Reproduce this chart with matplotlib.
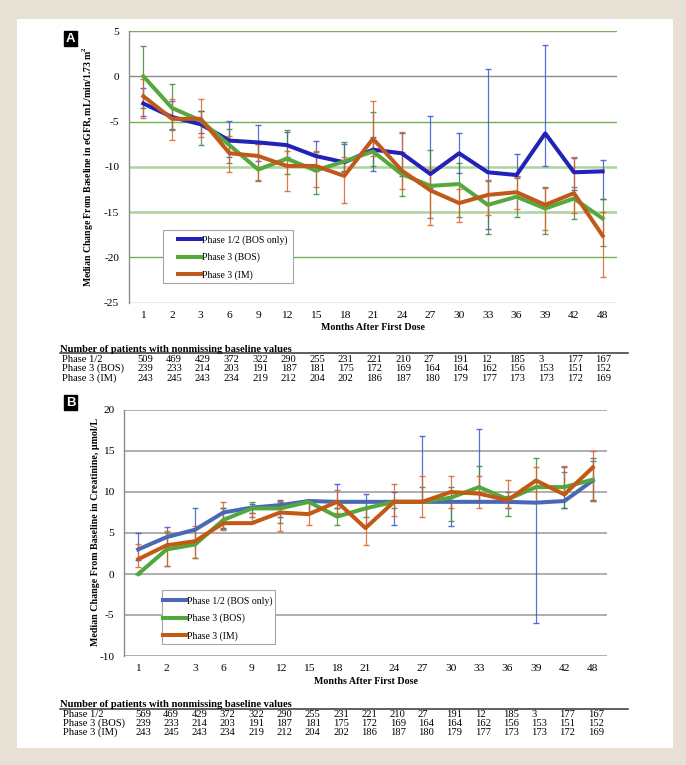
import matplotlib
matplotlib.use('Agg')
import matplotlib.pyplot as plt
import numpy as np
from matplotlib.patches import Rectangle
from matplotlib.lines import Line2D

# months after first dose (categorical axis)
months = ['1', '2', '3', '6', '9', '12', '15', '18', '21', '24', '27', '30', '33', '36', '39', '42', '48']
labels = ['Phase 1/2 (BOS only)', 'Phase 3 (BOS)', 'Phase 3 (IM)']

# Panel A: median change in eGFR, with lower / upper error bar ends
egfr_p12 = [-3.0, -4.5, -5.3, -7.1, -7.3, -7.6, -8.8, -9.5, -8.1, -8.5, -10.8, -8.5, -10.6, -10.9, -6.3, -10.6, -10.5]
egfr_p12_lo = [-4.4, -5.8, -6.3, -8.9, -9.3, -8.9, -10.5, -10.5, -10.5, -11.0, -12.3, -10.7, -16.9, -11.0, -9.9, -12.6, -13.6]
egfr_p12_hi = [-1.3, -2.7, -3.8, -4.9, -5.4, -6.2, -7.2, -7.5, -6.7, -6.3, -4.4, -6.3, 0.8, -8.6, 3.5, -9.0, -9.2]
egfr_bos = [0.0, -3.5, -4.9, -7.6, -10.3, -9.1, -10.4, -9.4, -8.3, -10.8, -12.1, -11.9, -14.2, -13.3, -14.6, -13.5, -15.7]
egfr_bos_lo = [-3.5, -5.9, -7.6, -9.6, -11.6, -10.8, -13.0, -10.6, -9.9, -13.2, -15.7, -15.5, -17.4, -15.5, -17.4, -15.8, -18.7]
egfr_bos_hi = [3.3, -0.9, -3.8, -5.8, -7.5, -5.9, -8.4, -7.3, -3.9, -8.4, -8.1, -9.6, -11.6, -11.2, -12.2, -12.2, -13.6]
egfr_im = [-2.2, -4.7, -4.7, -8.5, -8.8, -9.9, -9.9, -11.0, -6.9, -10.4, -12.6, -14.0, -13.1, -12.8, -14.2, -12.9, -17.6]
egfr_im_lo = [-4.6, -7.0, -6.7, -10.6, -11.5, -12.7, -12.2, -14.0, -8.8, -12.4, -16.4, -16.1, -15.3, -14.7, -17.0, -15.1, -22.2]
egfr_im_hi = [-0.3, -2.5, -2.5, -6.6, -7.5, -8.3, -8.3, -8.9, -2.7, -6.1, -10.2, -12.5, -11.5, -11.1, -12.3, -8.9, -15.0]

# Panel B: median change in creatinine
cr_p12 = [3.0, 4.5, 5.4, 7.5, 8.1, 8.4, 8.9, 8.8, 8.8, 8.8, 8.8, 8.8, 8.8, 8.8, 8.7, 8.9, 11.4]
cr_p12_lo = [1.7, 3.0, 3.8, 5.6, 7.5, 7.0, 7.5, 8.0, 6.0, 6.0, 8.8, 5.8, 8.8, 8.0, -6.0, 8.0, 9.0]
cr_p12_hi = [5.0, 5.7, 8.0, 8.0, 8.5, 9.0, 9.0, 11.0, 9.7, 10.0, 16.8, 9.5, 17.7, 9.5, 8.8, 13.1, 14.1]
cr_bos = [0.0, 3.0, 3.6, 6.6, 8.0, 8.0, 8.8, 7.0, 8.0, 8.8, 8.8, 9.3, 10.6, 9.1, 10.6, 10.6, 11.5]
cr_bos_lo = [0.0, 1.0, 2.0, 5.5, 7.0, 6.2, 7.5, 6.0, 7.0, 8.0, 8.8, 6.5, 8.8, 7.1, 8.8, 8.0, 8.9]
cr_bos_hi = [0.0, 5.0, 5.5, 8.0, 8.8, 8.8, 9.0, 8.0, 8.8, 9.0, 10.6, 10.6, 13.2, 10.0, 14.1, 12.4, 13.8]
cr_im = [1.8, 3.5, 4.0, 6.2, 6.2, 7.5, 7.3, 8.8, 5.6, 8.8, 8.8, 10.0, 9.8, 9.0, 11.4, 9.7, 13.0]
cr_im_lo = [0.9, 1.0, 2.0, 5.4, 6.2, 5.3, 6.0, 7.5, 3.5, 7.1, 7.0, 8.0, 8.0, 8.0, 8.8, 10.0, 8.9]
cr_im_hi = [3.6, 5.2, 5.8, 8.8, 7.5, 8.9, 8.8, 10.2, 8.0, 11.0, 12.0, 12.0, 12.0, 11.5, 13.0, 13.2, 15.0]

# patients with nonmissing baseline values
n_p12_a = [509, 469, 429, 372, 322, 290, 255, 231, 221, 210, 27, 191, 12, 185, 3, 177, 167]
n_p12_b = [569, 469, 429, 372, 322, 290, 255, 231, 221, 210, 27, 191, 12, 185, 3, 177, 167]
n_bos = [239, 233, 214, 203, 191, 187, 181, 175, 172, 169, 164, 164, 162, 156, 153, 151, 152]
n_im = [243, 245, 243, 234, 219, 212, 204, 202, 186, 187, 180, 179, 177, 173, 173, 172, 169]

W, H = 686, 765
plt.rcParams['font.family'] = ['Liberation Serif', 'DejaVu Serif']
plt.rcParams['axes.unicode_minus'] = False
plt.rcParams['mathtext.fontset'] = 'custom'
plt.rcParams['mathtext.rm'] = 'Liberation Serif'
plt.rcParams['mathtext.bf'] = 'Liberation Serif:bold'


def fx(px):
    return px / W


def fy(py):
    return 1 - py / H


def ax_rect(left, top, right, bottom):
    return [fx(left), fy(bottom), (right - left) / W, (bottom - top) / H]


def draw_panel(ax, series, yticks, grid, frame, handle_at):
    x = np.arange(len(months))
    for vals, lo, hi, col, ecol in series:
        vals, lo, hi = np.array(vals), np.array(lo), np.array(hi)
        yerr = [np.clip(vals - lo, 0, None), np.clip(hi - vals, 0, None)]
        ax.errorbar(x, vals, yerr=yerr, fmt='none', ecolor=ecol, elinewidth=0.9,
                    capsize=2.2, capthick=1.0, alpha=0.85, zorder=3)
    for (vals, lo, hi, col, ecol), lab in zip(series, labels):
        ax.plot(x, vals, color=col, lw=2.9, label=lab, zorder=4)

    for y in yticks:
        color, lw = grid(y)
        ax.axhline(y, color=color, lw=lw, zorder=1)
    ax.set_ylim(yticks[0], yticks[-1])
    ax.set_xlim(-0.5, len(months) - 0.5)
    ax.set_yticks(yticks)
    ax.set_xticks(x)
    ax.set_xticklabels(months)
    ax.tick_params(length=0, labelsize=8.2, pad=6)
    ax.tick_params(axis='y', pad=7)
    for s in ['top', 'right', 'bottom']:
        ax.spines[s].set_visible(False)
    ax.spines['left'].set_color('#8c8c8c')
    ax.spines['left'].set_linewidth(1.0)

    # legend frame drawn separately so the handles can sit where they do in the original
    l, t, r, b = frame
    fig = ax.figure
    ax.add_patch(Rectangle((fx(l), fy(b)), (r - l) / W, (b - t) / H, transform=fig.transFigure,
                           fc='white', ec='#a6a6a6', lw=0.8, zorder=5, clip_on=False))
    leg = ax.legend(loc='lower left', bbox_to_anchor=(fx(handle_at[0]), fy(handle_at[1])),
                    bbox_transform=fig.transFigure, fontsize=7.0, frameon=False,
                    handlelength=2.4, handletextpad=0.05, labelspacing=0.82,
                    borderpad=0, borderaxespad=0)
    leg.set_zorder(6)


def draw_table(fig, head_y, line_y, row_ys, label_x, x0, dx, rows):
    fig.text(fx(60), fy(head_y), 'Number of patients with nonmissing baseline values',
             fontsize=7.6, weight='bold', va='baseline')
    fig.add_artist(Line2D([fx(60), fx(628)], [fy(line_y), fy(line_y)],
                          color='#333333', lw=1.1, transform=fig.transFigure))
    for y, (name, counts) in zip(row_ys, rows):
        fig.text(fx(label_x), fy(y), name, fontsize=7.6, va='baseline')
        for i, n in enumerate(counts):
            fig.text(fx(x0 + i * dx), fy(y), str(n), fontsize=7.6, va='baseline')


fig = plt.figure(figsize=(W / 100, H / 100), dpi=100)
fig.patch.set_facecolor('#e7e0d4')
fig.add_artist(Rectangle((fx(17), fy(748)), (673 - 17) / W, (748 - 19) / H,
                         transform=fig.transFigure, fc='white', ec='none', zorder=0))

# ---- Panel A ----
axA = fig.add_axes(ax_rect(129, 31, 617, 302.7))
axA.set_facecolor('none')


def grid_a(y):
    if y == 0:
        return '#8a8a8a', 1.0
    if y in (-10, -15):
        return '#acd49c', 1.8
    return '#72b05a', 1.0


draw_panel(axA, [
    (egfr_p12, egfr_p12_lo, egfr_p12_hi, '#2222b8', '#3d55d0'),
    (egfr_bos, egfr_bos_lo, egfr_bos_hi, '#55a83e', '#3e8a3e'),
    (egfr_im, egfr_im_lo, egfr_im_hi, '#c05a1c', '#e0602a'),
], [-25, -20, -15, -10, -5, 0, 5], grid_a, (163, 230, 293, 283), (178, 280))

fig.text(fx(373), fy(327), 'Months After First Dose', fontsize=7.2, weight='bold',
         ha='center', va='center')
fig.text(fx(88), fy(166), r'Median Change From Baseline in eGFR, mL/min/1.73 m$^\mathbf{2}$',
         fontsize=7.0, weight='bold', rotation=90, ha='center', va='center')
fig.text(fx(70.5), fy(38.5), 'A', ha='center', va='center', family='Liberation Sans',
         weight='bold', color='white', fontsize=9.5,
         bbox=dict(boxstyle='square,pad=0.12', fc='black', ec='black'))

draw_table(fig, 351.7, 353.3, [361.7, 371.2, 380.7], 61.7, 137.7, 28.6, [
    ('Phase 1/2', n_p12_a), ('Phase 3 (BOS)', n_bos), ('Phase 3 (IM)', n_im)])

# ---- Panel B ----
axB = fig.add_axes(ax_rect(124, 410, 607, 656))
axB.set_facecolor('none')


def grid_b(y):
    return '#a8a8a8', 1.3


draw_panel(axB, [
    (cr_p12, cr_p12_lo, cr_p12_hi, '#4a68b5', '#3a58d0'),
    (cr_bos, cr_bos_lo, cr_bos_hi, '#52a83c', '#3e8a3e'),
    (cr_im, cr_im_lo, cr_im_hi, '#c25a16', '#e0602a'),
], [-10, -5, 0, 5, 10, 15, 20], grid_b, (162, 590, 275, 644), (163, 641))

fig.text(fx(366), fy(682), 'Months After First Dose', fontsize=7.2, weight='bold',
         ha='center', va='center')
fig.text(fx(95), fy(532), 'Median Change From Baseline in Creatinine, \u00b5mol/L',
         fontsize=7.2, weight='bold', rotation=90, ha='center', va='center')
fig.text(fx(70.5), fy(402.5), 'B', ha='center', va='center', family='Liberation Sans',
         weight='bold', color='white', fontsize=9.5,
         bbox=dict(boxstyle='square,pad=0.12', fc='black', ec='black'))

draw_table(fig, 706.7, 708.7, [716.7, 726.0, 735.0], 62.7, 135.0, 28.3, [
    ('Phase 1/2', n_p12_b), ('Phase 3 (BOS)', n_bos), ('Phase 3 (IM)', n_im)])

fig.savefig('out.png', dpi=100, facecolor=fig.get_facecolor())
